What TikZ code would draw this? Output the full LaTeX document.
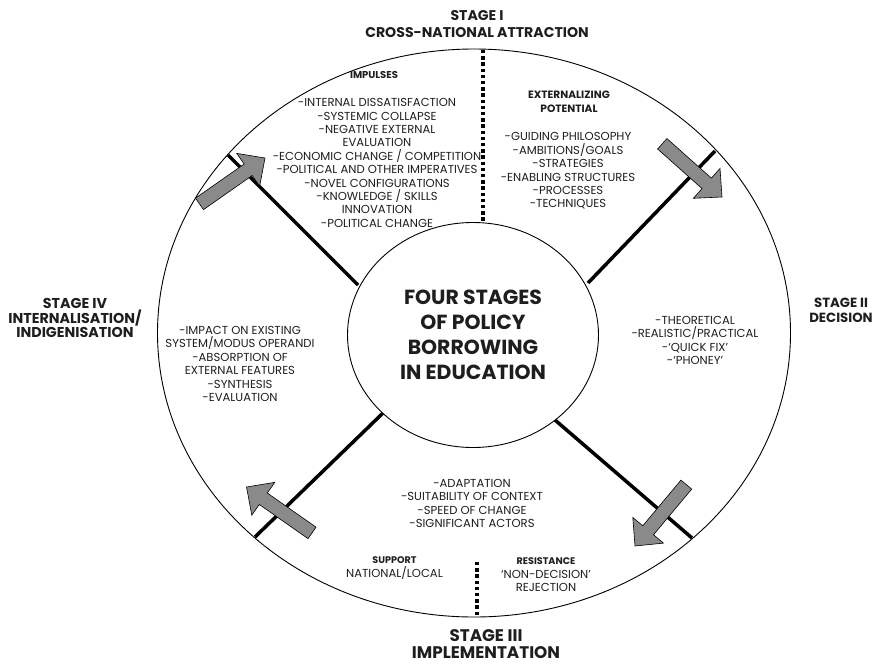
\documentclass[tikz,border=0pt]{standalone}
\usepackage{fontspec}
\setmainfont{Poppins}
\usetikzlibrary{shapes.geometric}
\definecolor{arrowgray}{HTML}{8A8A8A}
\definecolor{ink}{HTML}{1E1E1E}

% Block arrow with its tip at the origin, pointing along +x
\newcommand\flowarrow[2]{%
  \begin{scope}[shift={#1}, rotate=#2]
    \filldraw[flow] (0,0) -- (-20.5,20) -- (-20.5,7) -- (-80,7) -- (-80,-7)
      -- (-20.5,-7) -- (-20.5,-20) -- cycle;
  \end{scope}}

\begin{document}
\begin{tikzpicture}[x=1pt,y=-1pt,
  rim/.style={draw=black, line width=0.9pt},
  spoke/.style={draw=black, line width=3.5pt},
  divider/.style={draw=black, line width=3.3pt, dash pattern=on 3.3pt off 2.9pt},
  flow/.style={draw=black, line width=0.6pt, fill=arrowgray},
  stagelbl/.style={text=ink, align=center, inner sep=0pt},
  item/.style={text=ink, font=\fontsize{11.6}{13.4}\selectfont, align=center, inner sep=0pt},
  heading/.style={text=ink, align=center, inner sep=0pt},
  title/.style={text=ink, font=\bfseries\fontsize{20.4}{25}\selectfont, align=center, inner sep=0pt}]

\useasboundingbox (0,0) rectangle (876,665);

% outer ring
\node[ellipse, rim, minimum width=633pt, minimum height=568pt, inner sep=0pt] (ring) at (474,333) {};

% spokes between the core and the ring
\coordinate (tlIn) at (358,285);  \coordinate (tlOut) at (228,155);
\coordinate (trIn) at (588,283);  \coordinate (trOut) at (715,151);
\coordinate (brIn) at (555,420);  \coordinate (brOut) at (692,538);
\coordinate (blIn) at (383,413);  \coordinate (blOut) at (255,537);
\draw[spoke] (tlIn) -- (tlOut);
\draw[spoke] (trIn) -- (trOut);
\draw[spoke] (brIn) -- (brOut);
\draw[spoke] (blIn) -- (blOut);

% dotted dividers
\coordinate (topA) at (483,50);   \coordinate (topB) at (483,221);
\coordinate (botA) at (477,562);  \coordinate (botB) at (477,616);
\draw[divider] (topA) -- (topB);
\draw[divider] (botA) -- (botB);

% central core
\node[ellipse, rim, fill=white, minimum width=251pt, minimum height=225pt, inner sep=0pt, title] (core) at (473,335)
  {FOUR STAGES\\OF POLICY\\BORROWING\\IN EDUCATION};

% flow arrows
\flowarrow{(265,158)}{35}
\flowarrow{(722,197)}{-41.7}
\flowarrow{(635,546)}{-129.9}
\flowarrow{(246.5,487)}{145}

% stage labels
\node[stagelbl, font=\bfseries\fontsize{14.1}{16.5}\selectfont] (s1) at (477,24) {STAGE I\\CROSS-NATIONAL ATTRACTION};
\node[stagelbl, font=\bfseries\fontsize{13.3}{15}\selectfont] (s2) at (841,310) {STAGE II\\DECISION};
\node[stagelbl, font=\bfseries\fontsize{16.8}{17.2}\selectfont] (s3) at (486,644) {STAGE III\\IMPLEMENTATION};
\node[stagelbl, font=\bfseries\fontsize{14.3}{14.6}\selectfont] (s4) at (75,318) {STAGE IV\\INTERNALISATION/\\INDIGENISATION};

% stage I: impulses
\node[heading, font=\bfseries\fontsize{10}{13.5}\selectfont] (imph) at (374,75) {IMPULSES};
\node[item] (impl) at (377,163) {-INTERNAL DISSATISFACTION\\-SYSTEMIC COLLAPSE\\-NEGATIVE EXTERNAL\\EVALUATION\\-ECONOMIC CHANGE / COMPETITION\\-POLITICAL AND OTHER IMPERATIVES\\-NOVEL CONFIGURATIONS\\-KNOWLEDGE / SKILLS\\INNOVATION\\-POLITICAL CHANGE};

% stage I: externalizing potential
\node[heading, font=\bfseries\fontsize{10.6}{14}\selectfont] (exth) at (569,102) {EXTERNALIZING\\POTENTIAL};
\node[item] (extl) at (568,171) {-GUIDING PHILOSOPHY\\-AMBITIONS/GOALS\\-STRATEGIES\\-ENABLING STRUCTURES\\-PROCESSES\\-TECHNIQUES};

% stage II
\node[item] (decl) at (695,340.5) {-THEORETICAL\\-REALISTIC/PRACTICAL\\-`QUICK FIX'\\-`PHONEY'};

% stage III
\node[item] (impll) at (472,503.5) {-ADAPTATION\\-SUITABILITY OF CONTEXT\\-SPEED OF CHANGE\\-SIGNIFICANT ACTORS};
\node[item] (supp) at (394.5,568) {{\bfseries\fontsize{9.6}{13.4}\selectfont SUPPORT}\\NATIONAL/LOCAL};
\node[item] (resi) at (546,575) {{\bfseries\fontsize{9.6}{13.4}\selectfont RESISTANCE}\\`NON-DECISION'\\REJECTION};

% stage IV
\node[item] (intl) at (240,364) {-IMPACT ON EXISTING\\SYSTEM/MODUS OPERANDI\\-ABSORPTION OF\\EXTERNAL FEATURES\\-SYNTHESIS\\-EVALUATION};

\end{tikzpicture}
\end{document}
